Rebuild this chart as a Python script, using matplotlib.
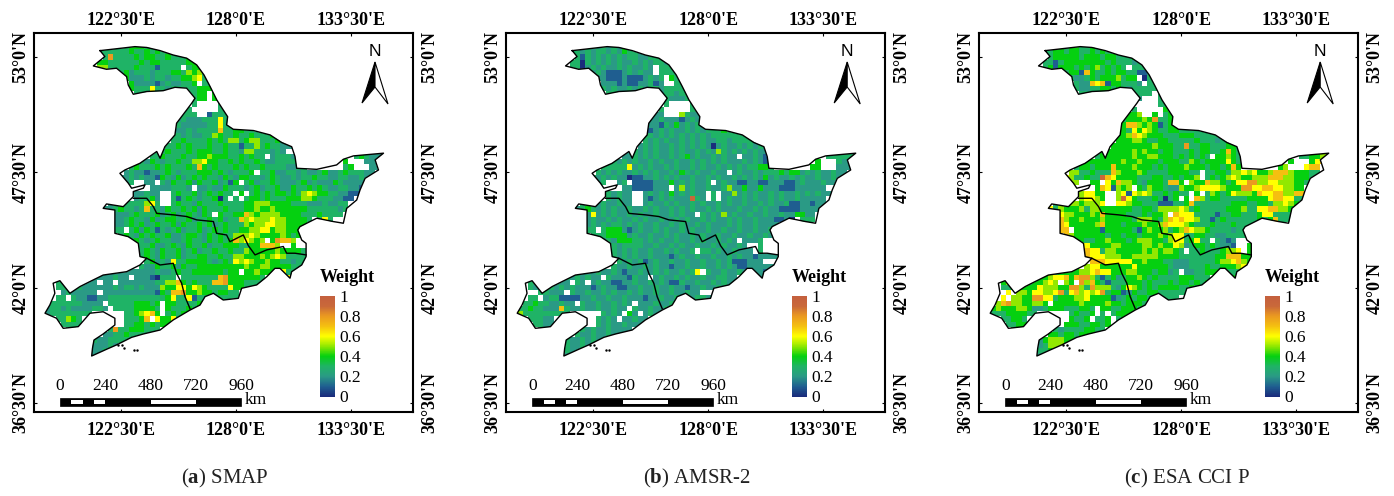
import numpy as np
import matplotlib
matplotlib.use('Agg')
import matplotlib.pyplot as plt
from matplotlib.colors import LinearSegmentedColormap, Normalize
from matplotlib.patches import Polygon, Rectangle
from matplotlib.transforms import Affine2D, ScaledTranslation
from matplotlib.colorbar import ColorbarBase

plt.rcParams['font.family'] = ['Liberation Serif', 'DejaVu Serif']
plt.rcParams['mathtext.fontset'] = 'custom'
plt.rcParams['mathtext.rm'] = 'Liberation Serif'
plt.rcParams['mathtext.bf'] = 'Liberation Serif:bold'

# weight per 0.25 degree cell, one digit = tenths, '.' = no data
smap_rows = [
".............33344433",
"..........3333334334343333",
"...........38333343443343334",
"..........4433333343443333344",
"..........5533333433313333.344",
"..............34233323334435453",
"...............42223233233445633",
"................4222212322334.33",
"................43336332333334443",
".................33333333333344.44",
"............................344.43",
"............................3....33",
"...........................3.....33",
"..........................333..13333",
".........................23222333633",
".........................322222336333",
".........................2232333373344333",
"........................33232233543343343334",
"........................3343333434355345533343",
".......................3343433343343313353433222",
".....................3343334344433433255333232",
"....................3343334334454443343433.233323..........343222",
"..................3243233433556443343433432233333........4...222",
"................3433343433343743433343433433332233.......34...222",
"...............2322122343233344434323334.3342233232234223433322",
"..............2232322143242343433243244332343223233433223322322",
"...............23..22.324334243342314.34233432223423222432222",
"....................22223332.22322433323423342243343432233221",
".................22322..343342343433.4.3434344343565443322112",
".................23342..3134323340 3.3.344343334445543332211",
"............2233333563..3433243334333344555444433322232233",
"...........22343323733243343424333433344544544444433333323",
".............2223433342342343243.433447545555444433343333",
".............22343324234433423343423375655565544443.363",
".............2234342343342433434234333545566554444",
".............33.342431323423342343433445566455444",
"..............343243433422344324343355565444454344",
"................3432343322343324343475654 5.48775..3",
"..................334223432433423344433447775..4",
"..................34324334234233433433544444544443",
"..................34324334233443343355444545653333",
"...................3423263344443234365654454433233",
"..................32243342433444444444544554444332",
"............2222222223223433444444344.445444563 33",
".........2222322.22210333.33333337844444 43....6",
"..33222222.22.2222222335574343337784443333",
"..3322322222232332322254466465433336443333",
"...2322222.22222222221437784454434433",
"..33.32211223333333333346336133 3433333333",
".3333332222.3333344434.443333445",
"233232222332.333344443.433343344",
"233333333......334567 4.34344",
"..33543........33347.64463",
"...3333........334434344",
"....33......3833444333",
"...........223343333",
".........32233333",
".........22232",
".........223",
".........2",
]
smap_rows = [r.replace(' ', '') for r in smap_rows]

amsr_rows = [
".............33232323",
"..........3323233232433232",
"...........31323232323322333",
"..........3303232323223232332",
"..........3302323223232232.333",
"..............232111232322.3333",
"...............2211121112323.433",
"................222121122312..33",
"................32322323233233333",
".................33332323232332333",
"............................322233",
"............................3....33",
"...........................3.....33",
"..........................22...53222",
".........................22322212322",
".........................221324232323",
".........................1232322323233343",
"........................33232323232323333333",
"........................3232322323232233233333",
".......................2323223232323202322323232",
".....................2323232232322323253232323223",
"....................2232323223234232232322.223212..........333333",
"..................3232322323223223232323222323213........4...322",
"................333336232322323223232232323233443.......44...222",
"...............3232322323232232432322322.2322323334344232322322",
"..............3232322011223232322322323223232324232232322322322",
"...............23..23.111122242323223.23221122112221123222322",
"....................221111222.25232232235224224222111222222",
".................32322..232324232322.3.2252323223232232323222",
".................32322..212323222932.3.23223232232322322222",
"............3232322322..23223232232322323223223232231122122",
"...........23432323223223232232323223232223223232211112222",
".............262323223232232232322.3232523223223223224422",
".............2322323223232232232322323223232232221120.333",
".............2323233232322322323223232223232232222",
".............33.34442123223232232322322322322322323",
"..............33344442322322323223232232232232232",
"................23244433232322322323223232.2223...",
"..................32333322322323223223232232..3",
"..................3232322322323223.3323223222.3",
"..................32323223222123223223223232212222",
"...................3232312322322322322323111222",
"..................3223223232212232232232321122222",
"............22232232122322323223236.32232232222122",
".........3232322.32221322.23223232232233 22....2",
"..33322322.32.2322112232232321132232232322",
"..32333232322212322112232232232212232232",
"....33222.3223223232232322322322322",
"..33.233111122322322322212232232323322322",
".3343322322.3223223232.222322322",
"334332227322322322322.322322322",
"5333333333......3232.42.23222",
"..33322........3232.22322",
"...3322........323223222",
"....33......3232232222",
"...........322322322",
".........32232322",
".........32232",
".........322",
".........2",
]
amsr_rows = [r.replace(' ', '') for r in amsr_rows]

esa_rows = [
".............33443343",
"..........3344344334343333",
"...........34444434443443334",
"..........3313444444443433323",
"..........3414443434534343.333",
"..............34417433434433112",
"...............3223434445344.033",
"................3227671443332.33",
"................32233443432333333",
".................33333333333333.33",
"............................2...33",
"................................33",
"...........................3.....43",
"..........................445..4.344",
".........................34445483344",
".........................477545413444",
".........................4364654334433333",
"........................44576544433344433333",
"........................4445543344333334333233",
".......................44444444544433833443334433",
".....................4444445454434433343443347433",
"....................3444444544554443434343.445433..........334455",
"..................4444444544544434443354344446433........4...467",
"................34434447444544434344454443443474.......45...677",
"...............5533433375444543333444433.3344355656445777544433",
"..............65334339764444333443343445.343456544555777554443",
"...............55..44.647554324443774.54475543466885566555443",
"....................4761545.43544322544566665444886677665544",
".................56644..56165653343433.4.3543465554766775577544",
".................56654..596433343034.4.753443333344446776633",
"............3345545556..66544333111334733333334443344355654",
"...........63544453554444443344355556534333334445336677554",
".............655444547444433343445.76663333133443334663333",
".............754454445444443555435767665331343333334347333",
".............764444457444344454457666543334333433334",
".............77.4444414444431454453457655433332333",
"..............75444444344344344454566334433223333",
"................44334454443455544356634633.3212...",
"..................64444554444554544652344343221..4",
"..................7663554444454545543.3343334556.4",
"..................76665554455555444433333334477744",
"...................7776666644544433222333334556754",
"..................5664444446444444322233343344456",
"............344445567664445544434423.22334443333",
".........445667478853134234454343333444333....4",
"..45223344565.54.85743133344434333434434343",
"..334444465554488538555324654343444433433",
"...6.554665568367565683441243344333333",
"..6.5544886634445564444123434 4333333",
".5785544554.44444544445443444334",
"454445542234443334 43.443344433",
"333444433......34334.3.34443",
"..33443........4334.334.34",
"...3344.......444334434",
"....44......3233334433",
"...........443443444",
".........24555444",
".........23555",
".........334",
".........2",
]
esa_rows = [r.replace(' ', '') for r in esa_rows]

titles = ["SMAP", "AMSR-2", "ESA CCI P"]
panel_letters = ["a", "b", "c"]
lon_ticks = [122.5, 128.0, 133.5]
lon_labels = ["122°30'E", "128°0'E", "133°30'E"]
lat_ticks = [53.0, 47.5, 42.0, 36.5]
lat_labels = ["53°0'N", "47°30'N", "42°0'N", "36°30'N"]
weight_ticks = [0, 0.2, 0.4, 0.6, 0.8, 1]
weight_labels = ["0", "0.2", "0.4", "0.6", "0.8", "1"]
scale_km = [0, 240, 480, 720, 960]

outline_lon = [121.50, 122.21, 123.17, 123.73, 124.37, 125.00, 125.64, 126.12, 126.47, 126.76,
               127.08, 127.39, 127.60, 127.55, 127.87, 128.83, 129.63, 130.18, 130.66, 130.82,
               130.90, 131.86, 132.81, 133.13, 133.61, 135.05, 134.65, 134.81, 134.17, 133.93,
               133.77, 133.29, 133.13, 132.65, 131.86, 131.06, 130.95, 131.14, 131.35, 131.35,
               131.14, 130.66, 130.58, 130.10, 129.86, 129.47, 128.99, 128.27, 128.11, 127.39,
               126.92, 126.52, 126.28, 125.80, 125.00, 124.37, 123.57, 123.01, 122.29, 121.81,
               121.10, 121.14, 121.21, 121.65, 122.21, 122.21, 121.65, 121.02, 120.46, 119.74,
               119.42, 118.87, 119.10, 119.34, 119.26, 119.58, 120.06, 120.54, 121.02, 121.65,
               122.77, 123.41, 123.73, 123.41, 123.33, 122.85, 122.21, 122.21, 122.21, 121.65,
               121.81, 122.61, 122.85, 123.09, 123.09, 123.57, 123.65, 123.01, 122.85, 122.45,
               122.69, 123.41, 124.21, 124.37, 124.60, 125.08, 125.16, 125.64, 125.88, 126.04,
               125.64, 125.08, 124.52, 123.73, 123.09, 122.85, 122.77, 122.29, 121.81, 121.18,
               121.73, 121.50]
outline_lat = [53.30, 53.38, 53.49, 53.45, 53.30, 53.09, 52.94, 52.62, 52.14, 51.59,
               50.95, 50.47, 50.15, 49.76, 49.55, 49.49, 49.28, 48.92, 48.72, 48.25,
               47.69, 47.64, 47.85, 48.12, 48.28, 48.41, 48.09, 47.61, 47.21, 46.66,
               46.18, 45.78, 45.07, 45.15, 45.31, 44.91, 44.75, 44.27, 44.11, 43.48,
               43.08, 42.76, 42.45, 42.92, 42.92, 42.52, 42.13, 41.97, 41.49, 41.41,
               41.73, 41.57, 41.17, 40.93, 40.46, 39.98, 39.79, 39.63, 39.27, 39.06,
               38.74, 39.11, 39.50, 39.79, 40.22, 40.54, 40.85, 40.78, 40.14, 40.06,
               40.54, 40.78, 41.17, 41.73, 42.21, 42.33, 41.73, 42.05, 42.29, 42.60,
               42.76, 43.08, 43.40, 43.48, 44.11, 44.43, 44.59, 45.23, 45.70, 45.78,
               45.99, 45.86, 46.10, 46.34, 46.58, 46.74, 46.90, 46.74, 46.98, 47.45,
               47.61, 47.93, 48.49, 48.17, 48.72, 49.28, 49.84, 50.47, 50.79, 51.03,
               51.51, 51.55, 51.39, 51.35, 51.22, 51.66, 52.06, 52.46, 52.41, 52.57,
               53.02, 53.30]
border1_lon = [123.09, 123.73, 124.05, 124.21, 125.00, 125.64, 126.12, 126.92, 127.07, 127.55,
               127.71, 128.35, 128.59, 128.91, 129.47, 130.26, 130.42, 130.82, 131.35]
border1_lat = [46.26, 46.26, 45.86, 45.54, 45.47, 45.39, 45.23, 45.15, 44.59, 44.51,
               44.19, 44.51, 44.00, 43.56, 43.80, 43.96, 43.64, 43.64, 43.56]
border2_lon = [123.73, 124.37, 125.00, 125.16, 125.40, 125.56, 125.80]
border2_lat = [43.40, 43.08, 43.16, 42.68, 42.21, 41.57, 41.00]
island_lon = [122.35, 122.55, 122.65, 123.10, 123.25]
island_lat = [39.28, 39.25, 39.12, 39.02, 39.02]

weight_cmap = LinearSegmentedColormap.from_list('weight', [
    (0.0, '#1a2c7c'), (0.1, '#1f5f90'), (0.2, '#2a9a85'), (0.3, '#1fb365'),
    (0.4, '#05d010'), (0.5, '#90e800'), (0.6, '#ffff00'), (0.7, '#f5c010'),
    (0.8, '#eb9a20'), (0.9, '#c9683a'), (1.0, '#c4603e')])
norm = Normalize(0, 1)


def rows_to_grid(rows):
    grid = np.full((60, 65), np.nan)
    for r, row in enumerate(rows):
        for c, ch in enumerate(row[:65]):
            if ch != '.':
                grid[r, c] = int(ch) / 10
    return grid


lon_edges = 118.875 + 0.25 * np.arange(66)
lat_edges = 53.625 - 0.25 * np.arange(61)

W, H = 1394, 496
fig = plt.figure(figsize=(W / 100, H / 100), dpi=100)
px = Affine2D().scale(1 / W, -1 / H).translate(0, 1) + fig.transFigure

offsets = [0, 472.2, 945.2]
captions_x = [225, 697, 1187]


def to_x(km):
    return 60 + km * 181 / 960


for i, rows in enumerate([smap_rows, amsr_rows, esa_rows]):
    dx = offsets[i]
    ax = fig.add_axes([(33.5 + dx) / W, 1 - 412 / H, 379.5 / W, 379 / H])
    ax.set_xlim(118.32, 136.46)
    ax.set_ylim(36.07, 54.14)

    mesh = ax.pcolormesh(lon_edges, lat_edges, rows_to_grid(rows), cmap=weight_cmap, norm=norm)
    clip = Polygon(np.column_stack([outline_lon, outline_lat]), transform=ax.transData)
    mesh.set_clip_path(clip)

    ax.plot(outline_lon, outline_lat, color='k', lw=1.0)
    ax.plot(border1_lon, border1_lat, color='k', lw=1.0)
    ax.plot(border2_lon, border2_lat, color='k', lw=1.0)
    ax.plot(island_lon, island_lat, 'k.', ms=1.5)

    ax.set_xticks(lon_ticks)
    ax.set_xticklabels(lon_labels, fontsize=13, fontweight='bold')
    ax.set_yticks(lat_ticks)
    ax.set_yticklabels(lat_labels, fontsize=13, fontweight='bold', rotation=90, va='center')
    ax.tick_params(direction='in', length=2, width=0.8, top=True, right=True,
                   labeltop=True, labelright=True, pad=3)
    for spine in ax.spines.values():
        spine.set_linewidth(1.5)

    # bottom and right labels sit a little further out than top and left
    for tick in ax.xaxis.get_major_ticks():
        tick.label1.set_transform(tick.label1.get_transform()
                                  + ScaledTranslation(0, -4 / 72, fig.dpi_scale_trans))
    for tick in ax.yaxis.get_major_ticks():
        tick.label2.set_transform(tick.label2.get_transform()
                                  + ScaledTranslation(3 / 72, 0, fig.dpi_scale_trans))

    pxs = Affine2D().translate(dx, 0) + px

    # north arrow
    fig.add_artist(Polygon([(375, 62), (362, 103), (375, 87)], closed=True, fc='k', ec='k', lw=0.8, transform=pxs))
    fig.add_artist(Polygon([(375, 62), (388, 104), (375, 87)], closed=True, fc='w', ec='k', lw=0.8, transform=pxs))
    fig.text(375, 51, "N", family='Liberation Sans', fontsize=12.5, ha='center', va='center', transform=pxs)

    # scale bar
    fig.add_artist(Rectangle((to_x(0), 398), 181, 7.5, fc='k', ec='k', lw=0.5, transform=pxs))
    for a, b in [(60, 120), (180, 240), (480, 720)]:
        fig.add_artist(Rectangle((to_x(a), 400), to_x(b) - to_x(a), 3.5, fc='w', ec='none', transform=pxs))
    for km in scale_km:
        fig.text(to_x(km), 386, str(km), fontsize=12.5, ha='center', va='center', transform=pxs)
    fig.text(256, 400, "km", fontsize=12.5, ha='center', va='center', transform=pxs)

    # colour bar
    fig.text(347, 277, "Weight", fontsize=13, fontweight='bold', ha='center', va='center', transform=pxs)
    cax = fig.add_axes([(320 + dx) / W, 1 - 396.5 / H, 15 / W, 100.5 / H])
    cb = ColorbarBase(cax, cmap=weight_cmap, norm=norm, orientation='vertical')
    cb.set_ticks(weight_ticks)
    cb.set_ticklabels(weight_labels)
    cb.ax.tick_params(length=0, labelsize=12.5, pad=3)
    cb.outline.set_visible(False)

    fig.text(captions_x[i], 478, r"($\mathbf{%s}$) %s" % (panel_letters[i], titles[i]),
             fontsize=15, ha='center', va='center', color='#222222', transform=px)

fig.savefig('out.png', dpi=100)
